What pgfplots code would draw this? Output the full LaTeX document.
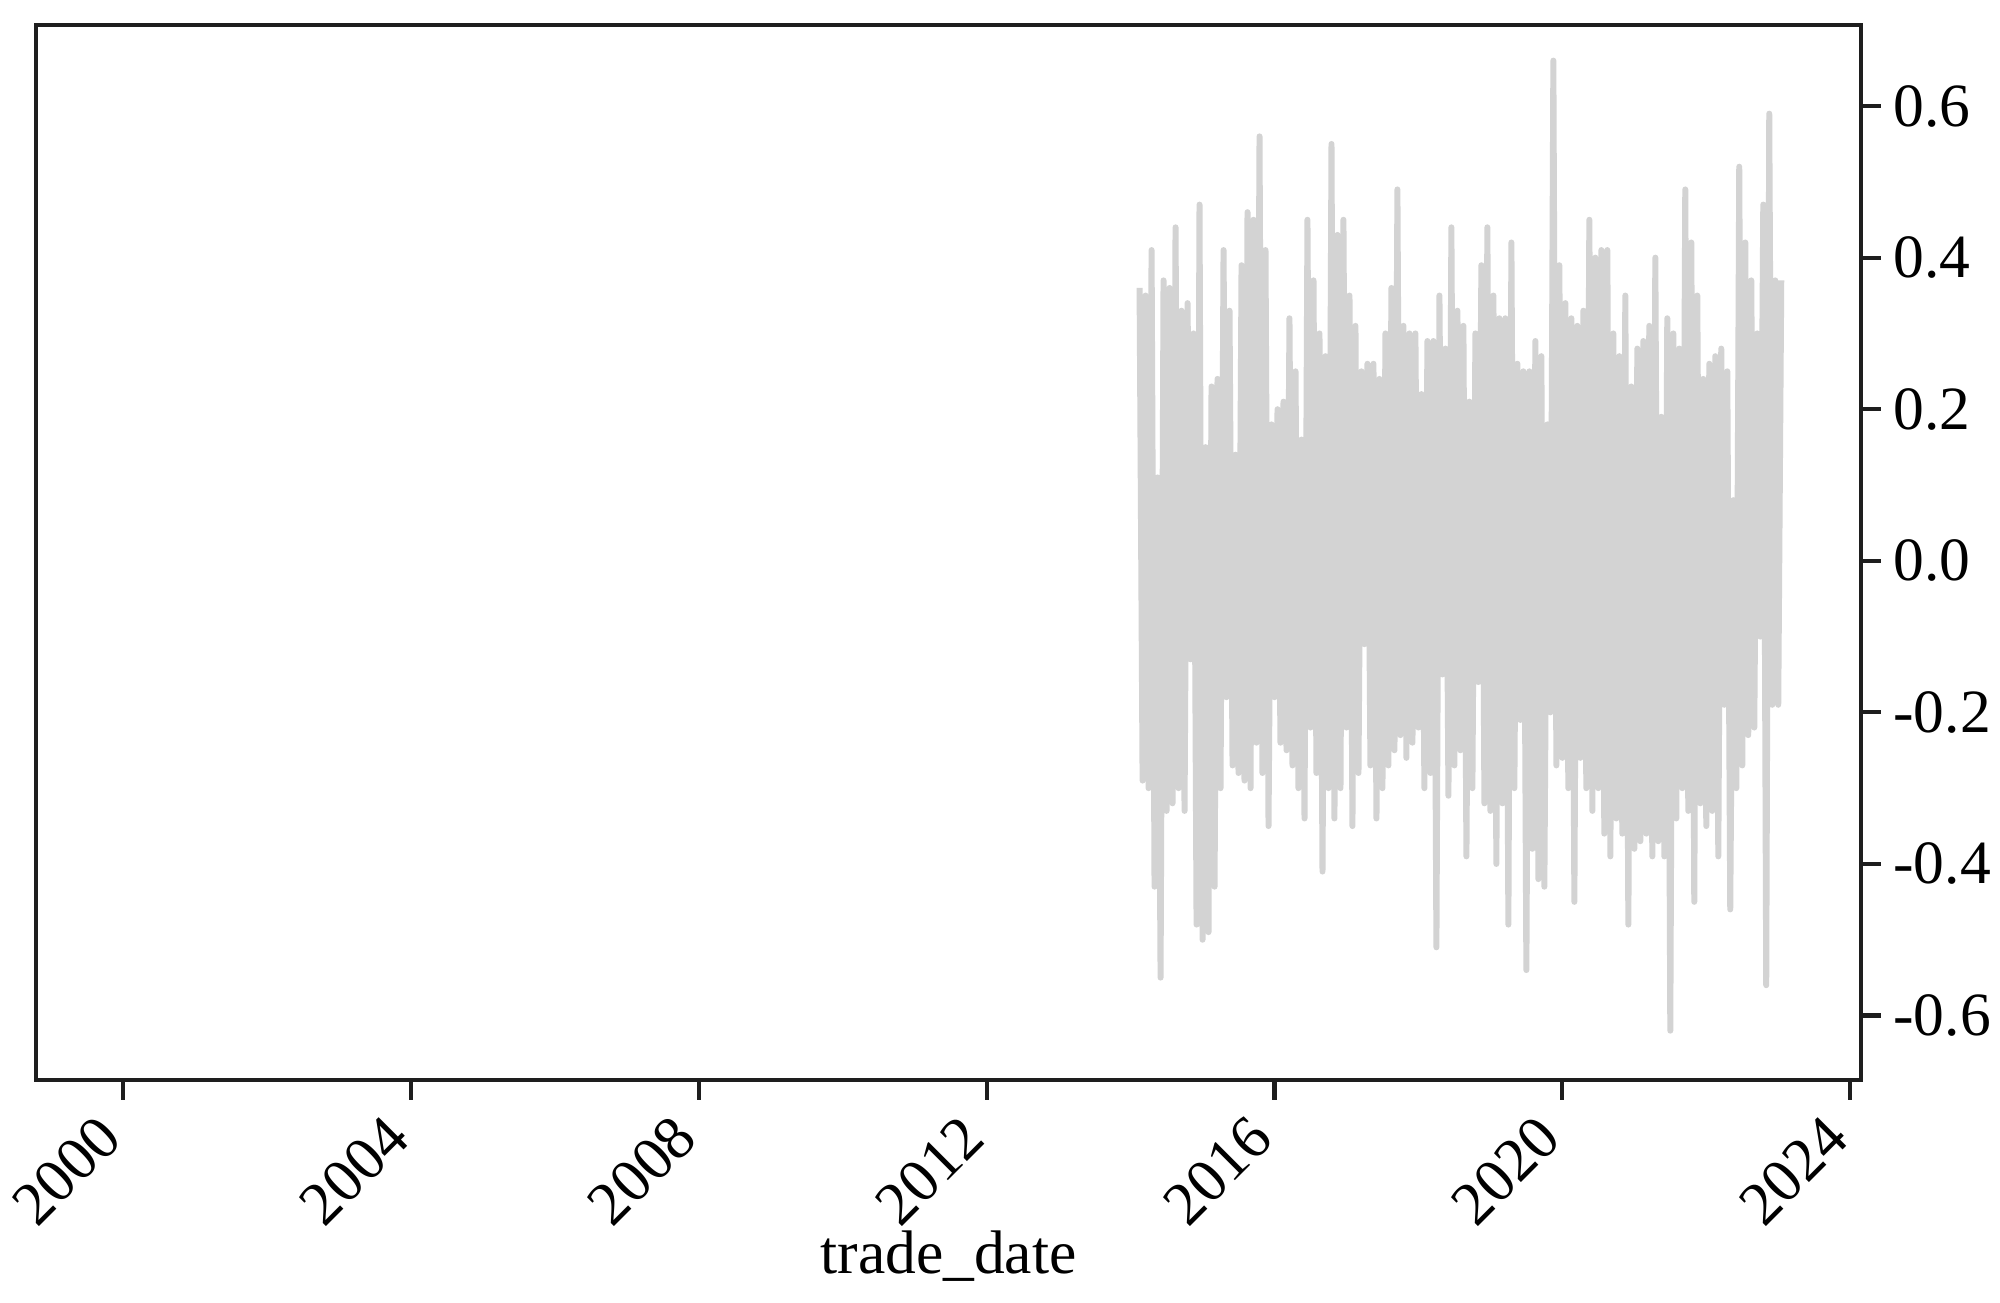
\documentclass[border=0pt]{standalone}
\usepackage{fontspec}
\setmainfont{Liberation Serif}
\usepackage{pgfplots}
\usepackage{pgfplotstable}
\pgfplotsset{compat=1.18}
\definecolor{series}{RGB}{211,211,211}
\definecolor{spine}{RGB}{30,30,30}

% trade_date (decimal year), value
\pgfplotstableread{
t v
2014.125 0.36
2014.167 -0.29
2014.208 0.35
2014.250 -0.30
2014.292 0.41
2014.333 -0.43
2014.375 0.11
2014.417 -0.55
2014.458 0.37
2014.500 -0.33
2014.542 0.36
2014.583 -0.32
2014.625 0.44
2014.667 -0.30
2014.708 0.33
2014.750 -0.33
2014.792 0.34
2014.833 -0.13
2014.875 0.30
2014.917 -0.48
2014.958 0.47
2015.000 -0.50
2015.042 0.15
2015.083 -0.49
2015.125 0.23
2015.167 -0.43
2015.208 0.24
2015.250 -0.30
2015.292 0.41
2015.333 -0.18
2015.375 0.33
2015.417 -0.27
2015.458 0.14
2015.500 -0.28
2015.542 0.39
2015.583 -0.29
2015.625 0.46
2015.667 -0.30
2015.708 0.45
2015.750 -0.24
2015.792 0.56
2015.833 -0.28
2015.875 0.41
2015.917 -0.35
2015.958 0.18
2016.000 -0.18
2016.042 0.20
2016.083 -0.24
2016.125 0.21
2016.167 -0.25
2016.208 0.32
2016.250 -0.27
2016.292 0.25
2016.333 -0.30
2016.375 0.16
2016.417 -0.34
2016.458 0.45
2016.500 -0.22
2016.542 0.37
2016.583 -0.28
2016.625 0.30
2016.667 -0.41
2016.708 0.27
2016.750 -0.30
2016.792 0.55
2016.833 -0.34
2016.875 0.43
2016.917 -0.30
2016.958 0.45
2017.000 -0.22
2017.042 0.35
2017.083 -0.35
2017.125 0.31
2017.167 -0.28
2017.208 0.25
2017.250 -0.11
2017.292 0.26
2017.333 -0.27
2017.375 0.26
2017.417 -0.34
2017.458 0.24
2017.500 -0.30
2017.542 0.30
2017.583 -0.27
2017.625 0.36
2017.667 -0.25
2017.708 0.49
2017.750 -0.23
2017.792 0.31
2017.833 -0.26
2017.875 0.30
2017.917 -0.24
2017.958 0.30
2018.000 -0.22
2018.042 0.22
2018.083 -0.30
2018.125 0.29
2018.167 -0.28
2018.208 0.29
2018.250 -0.51
2018.292 0.35
2018.333 -0.15
2018.375 0.28
2018.417 -0.31
2018.458 0.44
2018.500 -0.27
2018.542 0.33
2018.583 -0.25
2018.625 0.31
2018.667 -0.39
2018.708 0.21
2018.750 -0.30
2018.792 0.30
2018.833 -0.16
2018.875 0.39
2018.917 -0.32
2018.958 0.44
2019.000 -0.33
2019.042 0.35
2019.083 -0.40
2019.125 0.32
2019.167 -0.32
2019.208 0.32
2019.250 -0.48
2019.292 0.42
2019.333 -0.30
2019.375 0.26
2019.417 -0.21
2019.458 0.25
2019.500 -0.54
2019.542 0.25
2019.583 -0.38
2019.625 0.29
2019.667 -0.42
2019.708 0.27
2019.750 -0.43
2019.792 0.18
2019.833 -0.20
2019.875 0.66
2019.917 -0.27
2019.958 0.39
2020.000 -0.26
2020.042 0.34
2020.083 -0.30
2020.125 0.32
2020.167 -0.45
2020.208 0.31
2020.250 -0.26
2020.292 0.33
2020.333 -0.30
2020.375 0.45
2020.417 -0.33
2020.458 0.40
2020.500 -0.30
2020.542 0.41
2020.583 -0.36
2020.625 0.41
2020.667 -0.39
2020.708 0.30
2020.750 -0.34
2020.792 0.27
2020.833 -0.36
2020.875 0.35
2020.917 -0.48
2020.958 0.23
2021.000 -0.38
2021.042 0.28
2021.083 -0.37
2021.125 0.29
2021.167 -0.36
2021.208 0.31
2021.250 -0.39
2021.292 0.40
2021.333 -0.37
2021.375 0.19
2021.417 -0.39
2021.458 0.32
2021.500 -0.62
2021.542 0.30
2021.583 -0.34
2021.625 0.28
2021.667 -0.30
2021.708 0.49
2021.750 -0.33
2021.792 0.42
2021.833 -0.45
2021.875 0.35
2021.917 -0.32
2021.958 0.24
2022.000 -0.35
2022.042 0.26
2022.083 -0.33
2022.125 0.27
2022.167 -0.39
2022.208 0.28
2022.250 -0.19
2022.292 0.25
2022.333 -0.46
2022.375 0.08
2022.417 -0.30
2022.458 0.52
2022.500 -0.27
2022.542 0.42
2022.583 -0.23
2022.625 0.37
2022.667 -0.22
2022.708 0.30
2022.750 -0.10
2022.792 0.47
2022.833 -0.56
2022.875 0.59
2022.917 -0.19
2022.958 0.37
2023.000 -0.19
2023.042 0.37
}\trade

\begin{document}
\begin{tikzpicture}
\begin{axis}[
    name=ax,
    scale only axis,
    width=18.25cm, height=10.55cm,
    xmin=1998.79, xmax=2024.15,
    ymin=-0.685, ymax=0.707,
    xtick pos=bottom, ytick pos=right,
    yticklabel pos=right,
    tick align=outside,
    major tick length=0.2cm,
    every tick/.style={spine, line width=1.2pt},
    axis line style={spine, line width=1.1pt},
    xtick={2000,2004,2008,2012,2016,2020,2024},
    xticklabels={2000,2004,2008,2012,2016,2020,2024},
    ytick={-0.6,-0.4,-0.2,0,0.2,0.4,0.6},
    yticklabels={-0.6,-0.4,-0.2,0.0,0.2,0.4,0.6},
    ticklabel style={font=\fontsize{17.5}{20}\selectfont},
    % shifts act in the rotated frame: net move is about 0.28cm left, 0.05cm up
    xticklabel style={rotate=45, anchor=north east, xshift=-0.163cm, yshift=0.233cm},
    yticklabel style={anchor=west},
    xlabel={trade\_date},
    xlabel style={font=\fontsize{17.5}{20}\selectfont,
        at={(axis description cs:0.5,0)}, anchor=north, yshift=-1.38cm},
]
\addplot[series, line width=1.7pt, line join=round] table[x=t, y=v] {\trade};
\end{axis}
\pgfresetboundingbox
\path ([xshift=-0.36cm,yshift=-2.23cm]ax.south west) rectangle ([xshift=1.39cm,yshift=0.25cm]ax.north east);
\end{tikzpicture}
\end{document}
